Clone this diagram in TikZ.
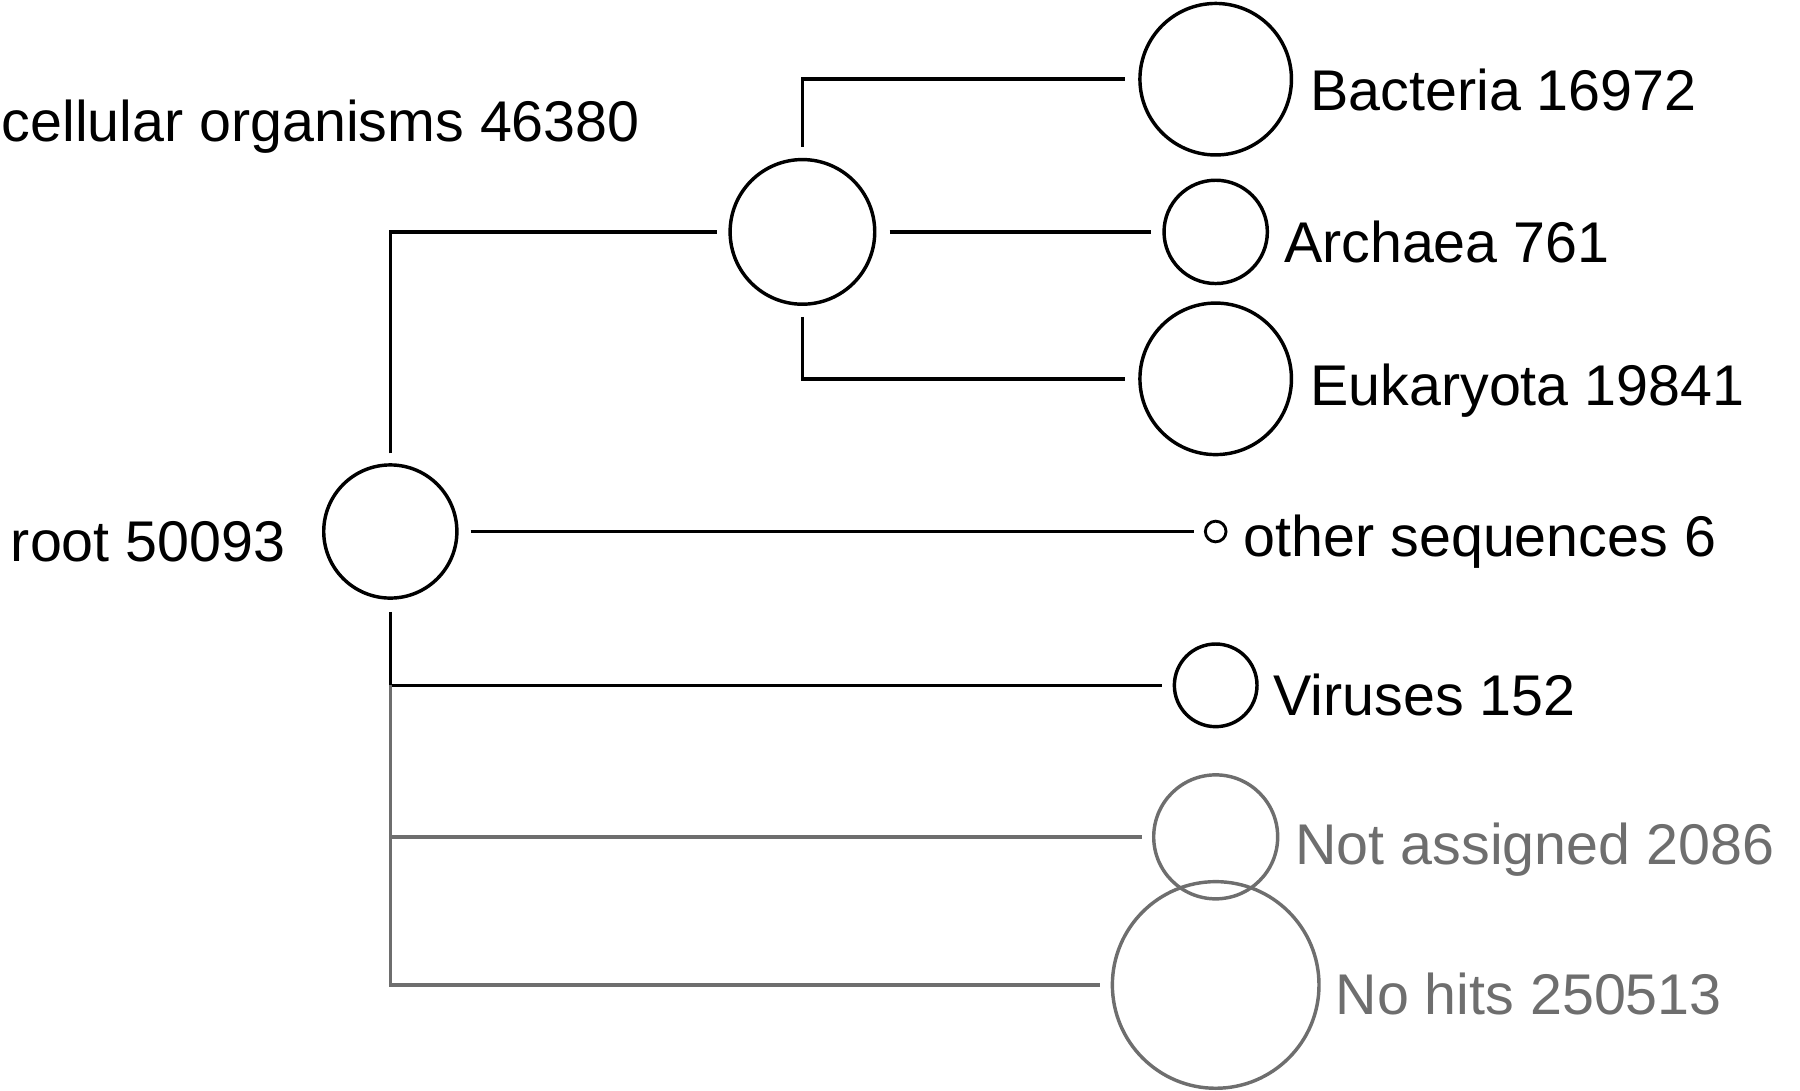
\documentclass[tikz,border=0pt]{standalone}
\usepackage{fontspec}
\setmainfont{Liberation Sans}
\definecolor{gr}{RGB}{110,110,110}
\begin{document}
\begin{tikzpicture}[x=1pt,y=-1pt,line width=3pt,
  c/.style={circle,draw,inner sep=0pt,minimum size=#1},
  lab/.style={anchor=west,inner sep=0pt,font=\fontsize{50}{60}\selectfont},
  g/.style={draw=gr,text=gr}]
\useasboundingbox (0,0) rectangle (1568,950);
\node[c=116pt] (root) at (340,463) {};
\node[c=126pt] (cell) at (699,202) {};
\node[c=132pt] (bac) at (1059,69) {};
\node[c=90pt] (arc) at (1059,202) {};
\node[c=132pt] (euk) at (1059,330) {};
\node[c=18pt,line width=2.5pt] (oth) at (1059,463) {};
\node[c=72pt] (vir) at (1059,597) {};
\node[c=108pt,g] (na) at (1059,729) {};
\node[c=180pt,g] (nh) at (1059,858) {};
\node[lab] (lcell) at (0,110) {cellular organisms 46380};
\node[lab] (lroot) at (8,472) {root 50093};
\node[lab] (lbac) at (1140,78) {Bacteria 16972};
\node[lab] (larc) at (1117,211) {Archaea 761};
\node[lab] (leuk) at (1140,340) {Eukaryota 19841};
\node[lab] (loth) at (1082,472) {other sequences 6};
\node[lab] (lvir) at (1108,605) {Viruses 152};
\node[lab,text=gr] (lna) at (1127,740) {Not assigned 2086};
\node[lab,text=gr] (lnh) at (1162,866) {No hits 250513};
\coordinate (r1) at (340,395); \coordinate (r2) at (340,202); \coordinate (r3) at (625,202);
\draw (r1) -- (r2) -- (r3);
\coordinate (o1) at (410,463); \coordinate (o2) at (1040,463);
\draw (o1) -- (o2);
\coordinate (d1) at (340,533); \coordinate (d2) at (340,597); \coordinate (v2) at (1012,597);
\draw (d1) -- (d2) -- (v2);
\coordinate (d3) at (340,858); \coordinate (n1) at (340,729); \coordinate (n2) at (995,729);
\coordinate (h2) at (958,858);
\draw[gr] (d2) -- (d3) -- (h2);
\draw[gr] (n1) -- (n2);
\coordinate (c1) at (699,128); \coordinate (c2) at (699,69); \coordinate (c3) at (980,69);
\draw (c1) -- (c2) -- (c3);
\coordinate (a1) at (775,202); \coordinate (a2) at (1003,202);
\draw (a1) -- (a2);
\coordinate (e1) at (699,276); \coordinate (e2) at (699,330); \coordinate (e3) at (980,330);
\draw (e1) -- (e2) -- (e3);
\end{tikzpicture}
\end{document}
